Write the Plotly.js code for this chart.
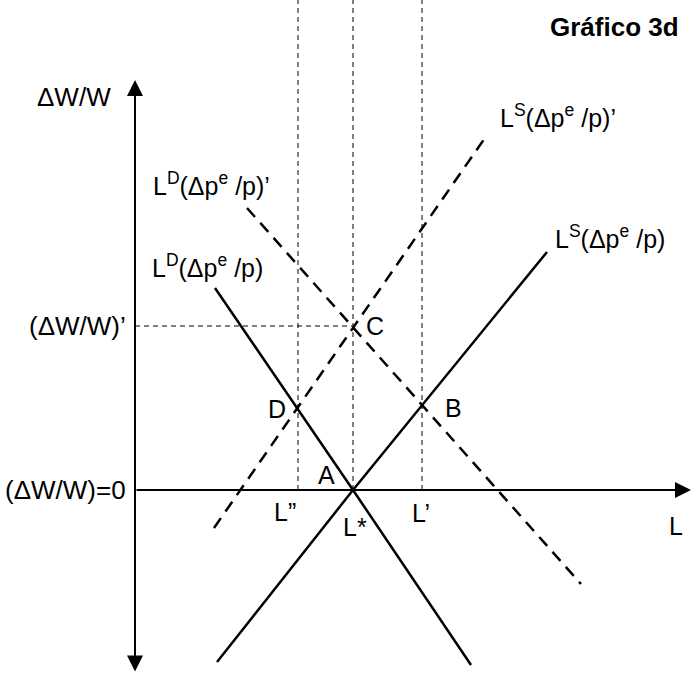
<!DOCTYPE html>
<html>
<head>
<meta charset="utf-8">
<script src="https://cdn.plot.ly/plotly-3.0.1.min.js"></script>
<style>html,body{margin:0;padding:0;background:#fff;}#chart{width:692px;height:675px;}</style>
</head>
<body>
<div id="chart"></div>
<script>
// Diagram coordinates: origin at the intersection of the two axes.
// Labour demand / supply curves
const ldX = [80, 218, 336];
const ldY = [202, 0, -175];
const lsX = [82, 218, 412];
const lsY = [-172, 0, 238];
const ldPrimeX = [112, 446];
const ldPrimeY = [282, -94];
const lsPrimeX = [79, 352];
const lsPrimeY = [-38, 355];
// Reference levels
const empLevels = [163, 218, 287];      // L'', L*, L'
const empNames = ["L\u201D", "L*", "L\u2019"];
const wageLevel = 164;                  // (ΔW/W)'
const topY = 490;
const axisTop = 410, axisBottom = -183, axisRight = 556;
// Point labels
const ptNames = ["C", "D", "B", "A"];
const ptX = [240, 142, 318, 191];
const ptY = [164, 81, 82, 15];

const FONT = "Liberation Sans, Arial, sans-serif";
const traces = [];
const solid = {color: "#000", width: 2.5};
const dashed = {color: "#000", width: 2.5, dash: "12px,8px"};
const thin = {color: "#000", width: 1, dash: "5px,4px"};

traces.push({x: ldX, y: ldY, mode: "lines", line: solid});
traces.push({x: lsX, y: lsY, mode: "lines", line: solid});
traces.push({x: ldPrimeX, y: ldPrimeY, mode: "lines", line: dashed});
traces.push({x: lsPrimeX, y: lsPrimeY, mode: "lines", line: dashed});
empLevels.forEach(v => traces.push({x: [v, v], y: [0, topY], mode: "lines", line: thin}));
traces.push({x: [0, empLevels[1]], y: [wageLevel, wageLevel], mode: "lines", line: thin});

const txt = (text, x, y, xanchor, size, extra) => Object.assign({
  text, x, y, xref: "x", yref: "y", xanchor: xanchor || "center", yanchor: "middle",
  showarrow: false, font: {family: FONT, size: size || 25, color: "#000"}
}, extra || {});

const ann = [
  // axes with arrowheads
  {x: 0, y: axisTop, ax: 0, ay: axisBottom, xref: "x", yref: "y", axref: "x", ayref: "y",
   text: "", showarrow: true, arrowhead: 2, startarrowhead: 2, arrowside: "end+start",
   arrowsize: 1.6, startarrowsize: 1.6, arrowwidth: 2, arrowcolor: "#000"},
  {x: axisRight, y: 0, ax: 0, ay: 0, xref: "x", yref: "y", axref: "x", ayref: "y",
   text: "", showarrow: true, arrowhead: 2, arrowsize: 1.6, arrowwidth: 2, arrowcolor: "#000"},
  txt("<b>Gráfico 3d</b>", 546, 463, "right", 26),
  txt("\u0394W/W", -61, 393, "center", 26),
  txt("L<sup>S</sup>(\u0394p<sup>e</sup> /p)\u2019", 363, 374, "left"),
  txt("L<sup>S</sup>(\u0394p<sup>e</sup> /p)", 418, 253, "left"),
  txt("L<sup>D</sup>(\u0394p<sup>e</sup> /p)\u2019", 16, 306, "left"),
  txt("L<sup>D</sup>(\u0394p<sup>e</sup> /p)", 15, 224, "left"),
  txt("(\u0394W/W)\u2019", -7, wageLevel, "right", 26),
  txt("(\u0394W/W)=0", -7, 0, "right", 26),
  txt(empNames[0], 150, -22),
  txt(empNames[1], 220, -37),
  txt(empNames[2], 286, -23),
  txt("L", 541, -36)
];
ptNames.forEach((n, i) => ann.push(txt(n, ptX[i], ptY[i])));

const layout = {
  width: 692, height: 675,
  margin: {l: 0, r: 0, t: 0, b: 0, pad: 0},
  paper_bgcolor: "#fff", plot_bgcolor: "#fff",
  showlegend: false,
  xaxis: {range: [-135, 557], visible: false, fixedrange: true},
  yaxis: {range: [-185, 490], visible: false, fixedrange: true},
  annotations: ann,
  font: {family: FONT, color: "#000"}
};
Plotly.newPlot("chart", traces, layout, {staticPlot: true, displayModeBar: false});
</script>
</body>
</html>
